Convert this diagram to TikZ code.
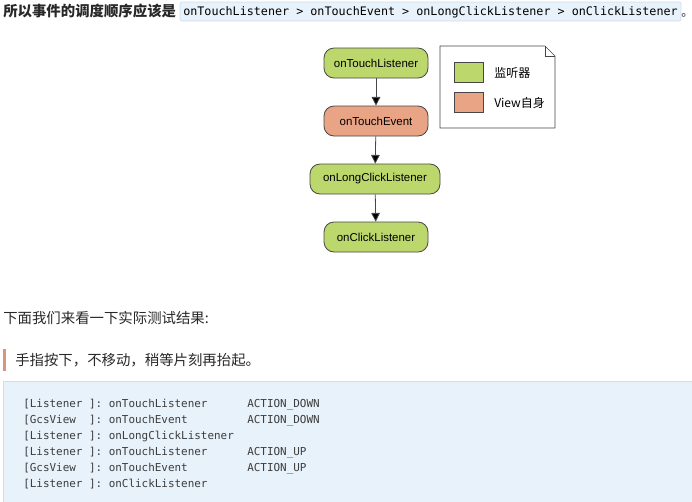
\documentclass[tikz,border=0pt]{standalone}
\usepackage{fontspec}
\setmainfont{Liberation Sans}
\setmonofont{DejaVu Sans Mono}
\newfontfamily\cjk{Noto Sans CJK SC}
\usetikzlibrary{arrows.meta}
\definecolor{gfill}{RGB}{188,216,108}
\definecolor{ofill}{RGB}{233,163,133}
\definecolor{nodeline}{RGB}{70,70,70}
\definecolor{codebg}{RGB}{232,242,251}
\definecolor{codeline}{RGB}{205,222,238}
\definecolor{quotebar}{RGB}{218,150,125}
\definecolor{bodytext}{RGB}{40,40,40}
\definecolor{codetext}{RGB}{60,60,60}
\tikzset{
  flownode/.style={draw=nodeline, line width=0.6pt, rounded corners=7.5pt,
    minimum height=22.5pt, minimum width=78pt, inner sep=0pt,
    font=\fontsize{8.6}{10}\selectfont},
  swatch/.style={draw=nodeline, line width=0.5pt, minimum width=21.75pt, minimum height=15pt, inner sep=0pt},
  legtext/.style={anchor=west, inner sep=0pt, font=\cjk\fontsize{9}{10}\selectfont},
  flowarrow/.style={draw=nodeline, line width=0.6pt, -{Triangle[length=6.5pt,width=6.5pt,fill=black]}},
  codeln/.style={anchor=base west, inner sep=0pt, text=codetext, font=\ttfamily\fontsize{8.2}{10}\selectfont},
  bodyln/.style={anchor=base west, inner sep=0pt, text=bodytext, font=\cjk\fontsize{10.8}{12}\selectfont}
}
\begin{document}
\begin{tikzpicture}[x=0.75pt,y=-0.75pt]
\useasboundingbox (0,0) rectangle (692,501);
% title line
\node[bodyln, font=\cjk\bfseries\fontsize{10.8}{12}\selectfont] (title) at (3,16) {所以事件的调度顺序应该是};
\draw[fill=codebg, draw=codeline, line width=0.5pt, rounded corners=1.5pt] (180,2) rectangle (681,21);
\node[anchor=base west, inner sep=0pt, text=black, font=\ttfamily\fontsize{8.8}{10}\selectfont] (inl) at (183,15.5)
  {onTouchListener > onTouchEvent > onLongClickListener > onClickListener};
\node[anchor=base west, inner sep=0pt, text=bodytext, font=\cjk\fontsize{9}{10}\selectfont] (dot) at (681,16) {。};
% flow
\node[flownode, fill=gfill] (n1) at (376,63) {onTouchListener};
\node[flownode, fill=ofill] (n2) at (376,121) {onTouchEvent};
\node[flownode, fill=gfill, minimum width=97.5pt] (n3) at (375,179) {onLongClickListener};
\node[flownode, fill=gfill] (n4) at (376,237) {onClickListener};
\draw[flowarrow] (n1) -- (n2);
\draw[flowarrow] (n2) -- (n3);
\draw[flowarrow] (n3) -- (n4);
% legend
\draw[draw=nodeline, line width=0.5pt, fill=white] (440,46) -- (545,46) -- (555,56) -- (555,128) -- (440,128) -- cycle;
\draw[draw=nodeline, line width=0.5pt] (545,46) -- (545,56) -- (555,56);
\node[swatch, fill=gfill] (lg) at (468.5,72) {};
\node[swatch, fill=ofill] (lo) at (468.5,102) {};
\node[legtext] (lgt) at (494,73) {监听器};
\node[legtext] (lot) at (494,103) {View自身};
% body text
\node[bodyln] (t2) at (3,323) {下面我们来看一下实际测试结果:};
\fill[quotebar] (3,349) rectangle (6,371);
\node[bodyln] (t3) at (15,365) {手指按下，不移动，稍等片刻再抬起。};
% code block
\fill[codebg] (3,381) rectangle (700,510);
\draw[codeline, line width=0.6pt] (3,510) -- (3,381) -- (700,381);
\node[codeln] (c1) at (23,407) {[Listener ]: onTouchListener};
\node[codeln] (c2) at (23,423) {[GcsView\ \ ]: onTouchEvent};
\node[codeln] (c3) at (23,439) {[Listener ]: onLongClickListener};
\node[codeln] (c4) at (23,455) {[Listener ]: onTouchListener};
\node[codeln] (c5) at (23,471) {[GcsView\ \ ]: onTouchEvent};
\node[codeln] (c6) at (23,487) {[Listener ]: onClickListener};
\node[codeln] (a1) at (247,407) {ACTION\_DOWN};
\node[codeln] (a2) at (247,423) {ACTION\_DOWN};
\node[codeln] (a4) at (247,455) {ACTION\_UP};
\node[codeln] (a5) at (247,471) {ACTION\_UP};
\end{tikzpicture}
\end{document}
